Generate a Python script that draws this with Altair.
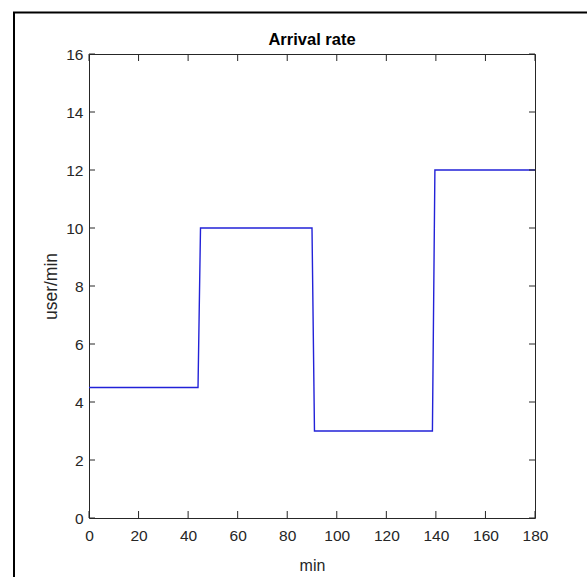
import altair as alt
import pandas as pd

# Step data (minutes, users/min)
time_min = [0, 44, 45, 90, 91, 138.6, 139.6, 180]
rate = [4.5, 4.5, 10, 10, 3, 3, 12, 12]

x_ticks = [0, 20, 40, 60, 80, 100, 120, 140, 160, 180]
y_ticks = [0, 2, 4, 6, 8, 10, 12, 14, 16]
title_text = ["Arrival rate"]

W, H = 446, 464
FONT = "Liberation Sans Narrow, Arial Narrow, Liberation Sans, Arial, sans-serif"
AX = "#262626"
TICK = 7

df = pd.DataFrame({"t": time_min, "r": rate})
xs = alt.Scale(domain=[0, 180], nice=False, zero=False)
ys = alt.Scale(domain=[0, 16], nice=False, zero=False)

x_axis = alt.Axis(
    title="min", values=x_ticks, tickSize=0, domain=False, grid=False, labelFlush=False,
    labelFont=FONT, labelFontSize=15.5, labelColor=AX, labelPadding=10,
    titleFont=FONT, titleFontSize=16, titleFontWeight="normal", titleColor=AX,
    titleX=W / 2, titleY=47, titleBaseline="middle", titleAlign="center")
y_axis = alt.Axis(
    title="user/min", values=y_ticks, tickSize=0, domain=False, grid=False, labelFlush=False,
    labelFont=FONT, labelFontSize=15.5, labelColor=AX, labelPadding=6,
    titleFont=FONT, titleFontSize=17.5, titleFontWeight="normal", titleColor=AX,
    titleX=-38, titleY=H / 2, titleBaseline="middle", titleAlign="center")

line = alt.Chart(df).mark_line(color="#2222d8", strokeWidth=1.4, clip=False).encode(
    x=alt.X("t:Q", scale=xs, axis=x_axis, title="min"),
    y=alt.Y("r:Q", scale=ys, axis=y_axis, title="user/min"),
    order=alt.Order("t:Q"),
)

xt = pd.DataFrame({"xv": x_ticks})
yt = pd.DataFrame({"yv": y_ticks})

xtick_bottom = alt.Chart(xt).mark_rule(color=AX, strokeWidth=1).encode(
    x=alt.X("xv:Q", scale=xs, axis=x_axis, title="min"), y=alt.value(H), y2=alt.value(H - TICK))
xtick_top = alt.Chart(xt).mark_rule(color=AX, strokeWidth=1).encode(
    x=alt.X("xv:Q", scale=xs, axis=x_axis, title="min"), y=alt.value(0), y2=alt.value(TICK))
ytick_left = alt.Chart(yt).mark_rule(color=AX, strokeWidth=1).encode(
    y=alt.Y("yv:Q", scale=ys, axis=y_axis, title="user/min"), x=alt.value(0), x2=alt.value(TICK - 1))
ytick_right = alt.Chart(yt).mark_rule(color=AX, strokeWidth=1).encode(
    y=alt.Y("yv:Q", scale=ys, axis=y_axis, title="user/min"), x=alt.value(W), x2=alt.value(W - TICK + 1))

one = pd.DataFrame({"a": [0]})
frame_left = alt.Chart(one).mark_rule(color="black", strokeWidth=2).encode(
    x=alt.value(-75), y=alt.value(-41.5), y2=alt.value(620))
frame_top = alt.Chart(one).mark_rule(color="black", strokeWidth=2).encode(
    y=alt.value(-41.5), x=alt.value(-76), x2=alt.value(620))

title = alt.Chart(pd.DataFrame({"label": title_text})).mark_text(
    font=FONT, fontSize=16.5, fontWeight="bold", color="black",
    align="center", baseline="alphabetic"
).encode(text="label:N", x=alt.value(W / 2), y=alt.value(-9))

chart = alt.layer(
    line, xtick_bottom, xtick_top, ytick_left, ytick_right, frame_left, frame_top, title
).properties(
    width=W, height=H,
    autosize=alt.AutoSizeParams(type="none"),
    padding={"left": 89, "top": 54, "right": 52, "bottom": 59},
    background="white",
).configure_view(stroke=AX, strokeWidth=1)

chart.save("out.html", embed_options={"renderer": "svg", "actions": False})
